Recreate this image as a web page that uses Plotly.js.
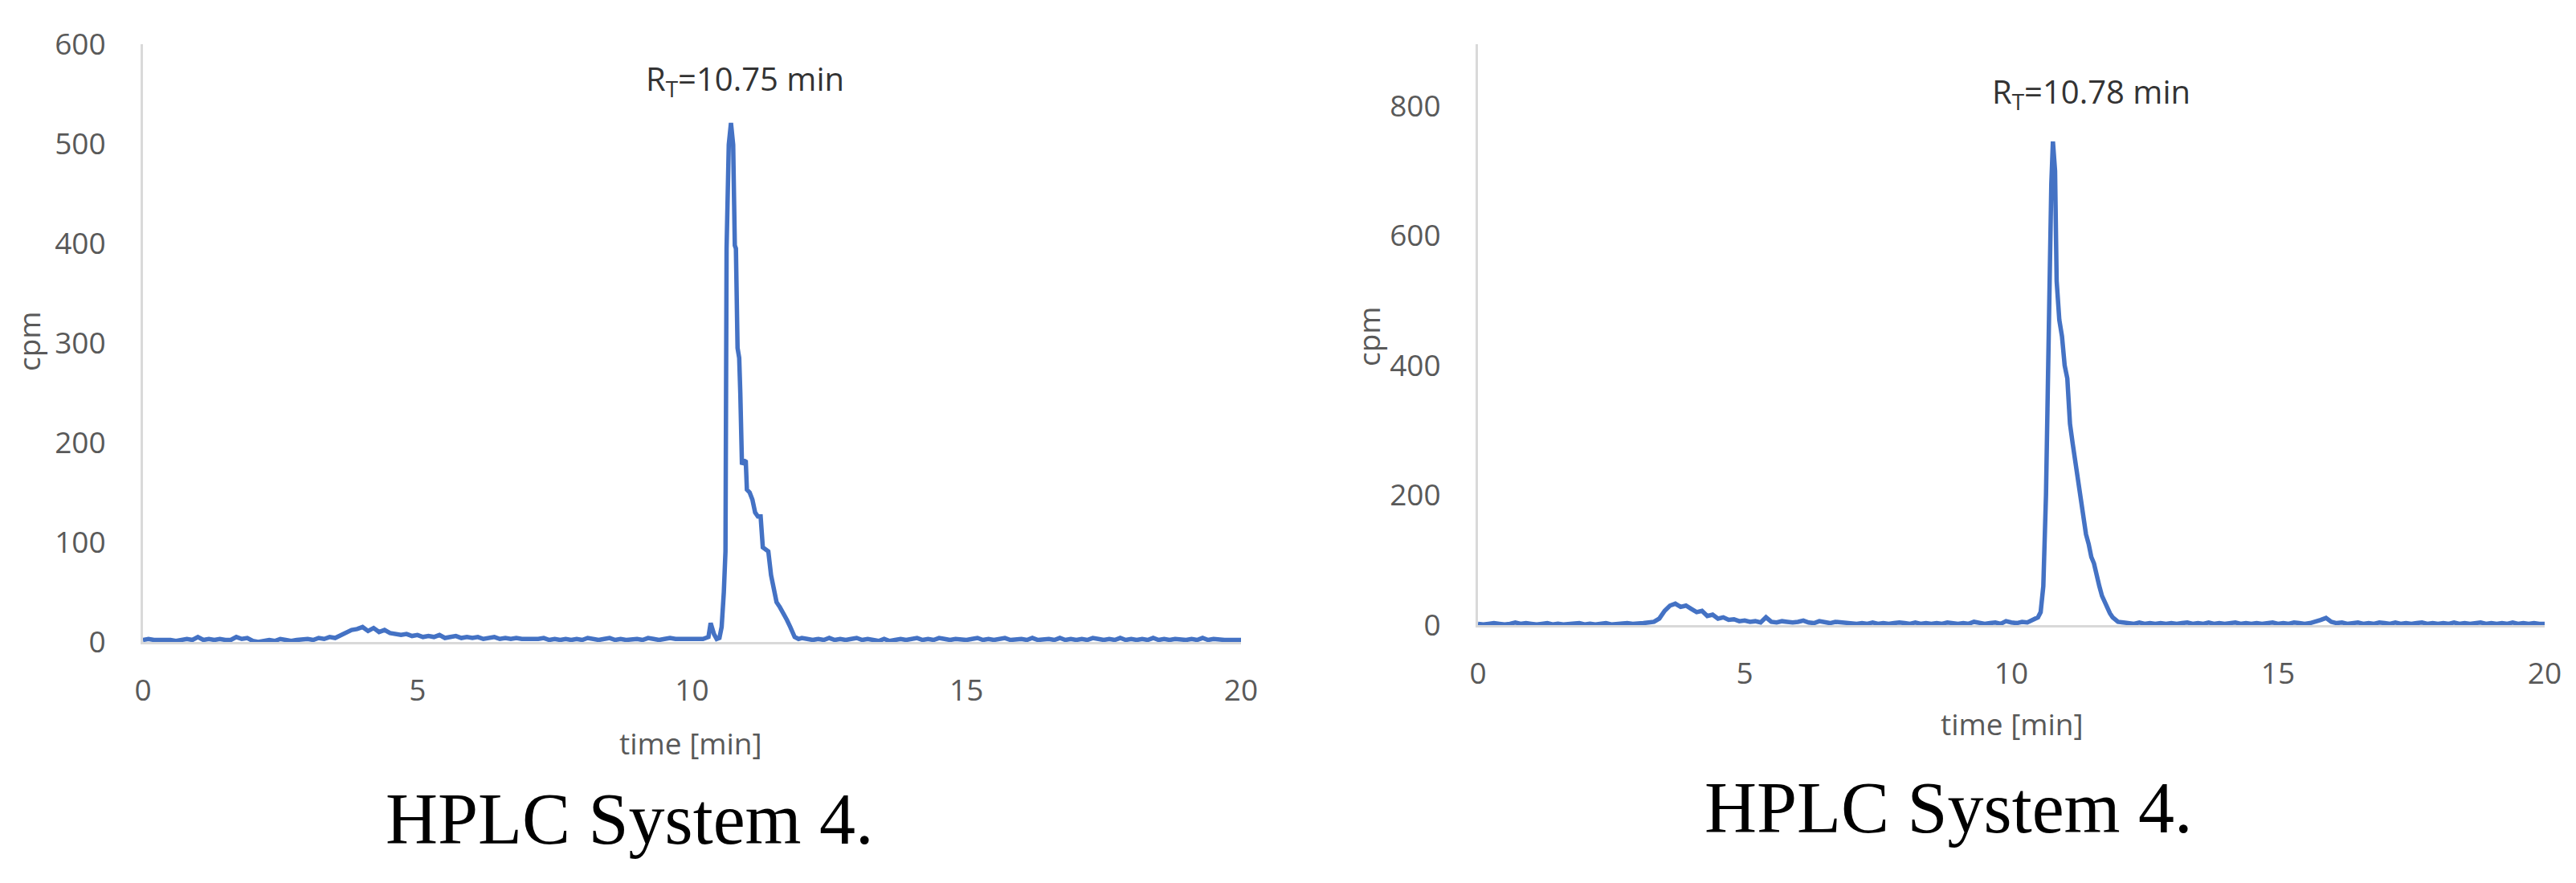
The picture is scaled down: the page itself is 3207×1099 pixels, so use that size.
<!DOCTYPE html>
<html>
<head>
<meta charset="utf-8">
<script src="https://cdn.plot.ly/plotly-3.0.1.min.js"></script>
<style>html,body{margin:0;padding:0;background:#fff;}#chart{width:3207px;height:1099px;}</style>
</head>
<body>
<div id="chart"></div>
<script>
// ---------- Left chromatogram (RT 10.75 min) ----------
const timeLeft = [
0.0,0.1,0.2,0.3,0.4,0.5,0.6,0.7,0.8,0.9,
1.0,1.1,1.2,1.3,1.4,1.5,1.6,1.7,1.8,1.9,
2.0,2.1,2.2,2.3,2.4,2.5,2.6,2.7,2.8,2.9,
3.0,3.1,3.2,3.3,3.4,3.5,3.6,3.7,3.8,3.9,
4.0,4.1,4.2,4.3,4.4,4.5,4.6,4.7,4.8,4.9,
5.0,5.1,5.2,5.3,5.4,5.5,5.6,5.7,5.8,5.9,
6.0,6.1,6.2,6.3,6.4,6.5,6.6,6.7,6.8,6.9,
7.0,7.1,7.2,7.3,7.4,7.5,7.6,7.7,7.8,7.9,
8.0,8.1,8.2,8.3,8.4,8.5,8.6,8.7,8.8,8.9,
9.0,9.1,9.2,9.3,9.4,9.5,9.6,9.7,9.8,9.9,
10.0,10.1,10.2,10.3,10.34,10.4,10.45,10.5,10.54,10.58,
10.61,10.63,10.67,10.71,10.75,10.78,10.8,10.83,10.86,10.88,
10.91,10.95,10.98,11.0,11.05,11.1,11.15,11.2,11.25,11.29,
11.35,11.39,11.44,11.5,11.54,11.6,11.67,11.73,11.79,11.87,
11.94,12.0,12.1,12.2,
12.3,12.4,12.5,12.6,12.7,12.8,12.9,
13.0,13.1,13.2,13.3,13.4,13.5,13.6,13.7,13.8,13.9,
14.0,14.1,14.2,14.3,14.4,14.5,14.6,14.7,14.8,14.9,
15.0,15.1,15.2,15.3,15.4,15.5,15.6,15.7,15.8,15.9,
16.0,16.1,16.2,16.3,16.4,16.5,16.6,16.7,16.8,16.9,
17.0,17.1,17.2,17.3,17.4,17.5,17.6,17.7,17.8,17.9,
18.0,18.1,18.2,18.3,18.4,18.5,18.6,18.7,18.8,18.9,
19.0,19.1,19.2,19.3,19.4,19.5,19.6,19.7,19.8,19.9,20.0
];
const cpmLeft = [
2,3,2,2,3,2,1,2,3,2,
5,2,3,2,3,2,2,5,3,4,
1,0,1,2,1,3,2,1,2,3,
3,2,4,3,5,4,7,10,12,13,
15,11,14,10,12,9,8,7,8,6,
7,5,6,5,7,4,5,6,4,5,
4,5,3,4,5,3,4,3,4,3,
3,2,3,4,2,3,2,3,2,3,
2,4,3,2,3,4,2,3,2,3,
3,2,4,3,2,3,4,3,3,4,
3,4,3,5,19,8,3,4,15,50,
91,395,499,521,499,398,395,295,285,250,
178,182,181,153,150,143,130,126,126,95,
92,91,67,52,40,35,29,22,15,5,
3,4,3,2,
3,2,4,2,3,2,3,
4,2,3,2,1,3,1,2,3,2,
3,4,2,3,2,4,3,2,3,2,
2,3,4,2,3,2,3,4,2,3,
3,2,4,2,3,3,2,4,2,3,
2,3,2,4,3,2,3,2,4,2,
3,2,3,2,4,2,3,2,3,2,
2,3,2,4,2,3,2,2,2,2,2
];

// ---------- Right chromatogram (RT 10.78 min) ----------
const timeRight = [
0.0,0.1,0.2,0.3,0.4,0.5,0.6,0.7,0.8,0.9,
1.0,1.1,1.2,1.3,1.4,1.5,1.6,1.7,1.8,1.9,
2.0,2.1,2.2,2.3,2.4,2.5,2.6,2.7,2.8,2.9,
3.0,3.1,3.2,3.3,3.4,3.5,3.6,3.7,3.8,3.9,
4.0,4.1,4.2,4.3,4.4,4.5,4.6,4.7,4.8,4.9,
5.0,5.1,5.2,5.3,5.4,5.5,5.6,5.7,5.8,5.9,
6.0,6.1,6.2,6.3,6.4,6.5,6.6,6.7,6.8,6.9,
7.0,7.1,7.2,7.3,7.4,7.5,7.6,7.7,7.8,7.9,
8.0,8.1,8.2,8.3,8.4,8.5,8.6,8.7,8.8,8.9,
9.0,9.1,9.2,9.3,9.4,9.5,9.6,9.7,9.8,9.9,
10.0,10.1,10.2,10.3,10.4,10.5,
10.55,10.6,10.65,10.7,10.75,10.78,10.82,10.85,10.9,10.95,
11.0,11.05,11.1,11.15,11.2,11.25,11.3,11.35,11.4,11.45,11.5,11.55,
11.6,11.65,11.7,11.75,11.8,11.85,11.9,11.95,12.0,12.1,12.2,
12.3,12.4,12.5,12.6,12.7,12.8,12.9,
13.0,13.1,13.2,13.3,13.4,13.5,13.6,13.7,13.8,13.9,
14.0,14.1,14.2,14.3,14.4,14.5,14.6,14.7,14.8,14.9,
15.0,15.1,15.2,15.3,15.4,15.5,15.6,15.7,15.8,15.9,
16.0,16.1,16.2,16.3,16.4,16.5,16.6,16.7,16.8,16.9,
17.0,17.1,17.2,17.3,17.4,17.5,17.6,17.7,17.8,17.9,
18.0,18.1,18.2,18.3,18.4,18.5,18.6,18.7,18.8,18.9,
19.0,19.1,19.2,19.3,19.4,19.5,19.6,19.7,19.8,19.9,20.0
];
const cpmRight = [
2,1,2,3,2,1,2,4,2,3,
2,1,2,3,1,2,1,2,2,3,
1,2,1,2,3,1,2,2,3,2,
2,3,4,5,10,22,30,33,28,30,
25,20,22,14,16,10,12,8,9,6,
7,5,6,4,12,5,4,6,5,4,
5,7,4,3,6,4,3,5,4,3,
3,2,3,2,4,2,3,2,3,4,
3,2,4,2,3,2,3,2,4,3,
2,3,2,5,3,2,3,4,2,6,
4,3,5,4,8,12,
20,60,200,450,680,745,700,530,470,445,
400,380,310,280,250,225,195,170,140,125,105,95,
75,60,45,35,25,18,12,8,5,4,3,
2,4,2,3,2,3,2,
3,2,3,4,2,3,2,4,2,3,
2,3,4,2,3,2,3,2,3,4,
2,3,2,4,3,2,3,5,8,11,
5,3,4,2,3,4,2,3,2,4,
3,2,4,2,3,2,3,4,2,3,
2,3,2,4,2,3,2,3,4,2,
3,2,3,2,4,2,3,2,3,2,2
];

const xTicks = [0, 5, 10, 15, 20];
const yTicksLeft = [0, 100, 200, 300, 400, 500, 600];
const yTicksRight = [0, 200, 400, 600, 800];
const peakLabelLeft = "R<sub>T</sub>=10.75 min";
const peakLabelRight = "R<sub>T</sub>=10.78 min";
const panelCaption = "HPLC System 4.";
const xTitle = "time [min]";
const yTitle = "cpm";

const W = 3207, H = 1099;
const lineColor = "#4472C4";
const tickFont = {family: "Open Sans, sans-serif", size: 37, color: "#595959"};

function xAxis(domain, anchor) {
  return {
    domain: domain, anchor: anchor, range: [0, 20], tickvals: xTicks, ticktext: xTicks.map(String),
    showgrid: false, zeroline: false, showline: true, linecolor: "#d9d9d9", linewidth: 3,
    ticks: "", ticklabelstandoff: 26, tickfont: tickFont, fixedrange: true
  };
}
function yAxis(domain, anchor, range, vals) {
  return {
    domain: domain, anchor: anchor, range: range, tickvals: vals, ticktext: vals.map(String),
    showgrid: false, zeroline: false, showline: true, linecolor: "#d9d9d9", linewidth: 3,
    ticks: "", ticklabelstandoff: 36, tickfont: tickFont, fixedrange: true
  };
}
const py = v => (H - v) / H; // pixel row -> paper fraction
const px = v => v / W;

const data = [
  {x: timeLeft, y: cpmLeft, type: "scatter", mode: "lines", xaxis: "x", yaxis: "y",
   line: {color: lineColor, width: 5.5}, showlegend: false, hoverinfo: "x+y"},
  {x: timeRight, y: cpmRight, type: "scatter", mode: "lines", xaxis: "x2", yaxis: "y2",
   line: {color: lineColor, width: 5.5}, showlegend: false, hoverinfo: "x+y"}
];

const annoFont = {family: "Open Sans, sans-serif", size: 40, color: "#333333"};
const titleFont = {family: "Open Sans, sans-serif", size: 37, color: "#595959"};
const capFont = {family: "Liberation Serif, serif", size: 90, color: "#000000"};
const C = {xanchor: "center", yanchor: "middle", showarrow: false};

const layout = {
  width: W, height: H,
  margin: {l: 0, r: 0, t: 0, b: 0},
  paper_bgcolor: "#ffffff", plot_bgcolor: "#ffffff",
  xaxis: xAxis([px(178), px(1545)], "y"),
  yaxis: yAxis([py(799), py(55)], "x", [0, 600], yTicksLeft),
  xaxis2: xAxis([px(1840), px(3168)], "y2"),
  yaxis2: yAxis([py(778), py(55)], "x2", [0, 895], yTicksRight),
  annotations: [
    Object.assign({text: peakLabelLeft, x: 10.97, y: 564, xref: "x", yref: "y", font: annoFont}, C),
    Object.assign({text: peakLabelRight, x: 11.5, y: 820, xref: "x2", yref: "y2", font: annoFont}, C),
    Object.assign({text: xTitle, x: px(860), y: py(924), xref: "paper", yref: "paper", font: titleFont}, C),
    Object.assign({text: xTitle, x: px(2505), y: py(900), xref: "paper", yref: "paper", font: titleFont}, C),
    Object.assign({text: yTitle, x: px(35), y: py(425), xref: "paper", yref: "paper", textangle: -90, font: titleFont}, C),
    Object.assign({text: yTitle, x: px(1703), y: py(418), xref: "paper", yref: "paper", textangle: -90, font: titleFont}, C),
    Object.assign({text: panelCaption, x: px(784), y: py(1019), xref: "paper", yref: "paper", font: capFont}, C),
    Object.assign({text: panelCaption, x: px(2426), y: py(1005), xref: "paper", yref: "paper", font: capFont}, C)
  ]
};

Plotly.newPlot("chart", data, layout, {staticPlot: true, displayModeBar: false});
</script>
</body>
</html>
